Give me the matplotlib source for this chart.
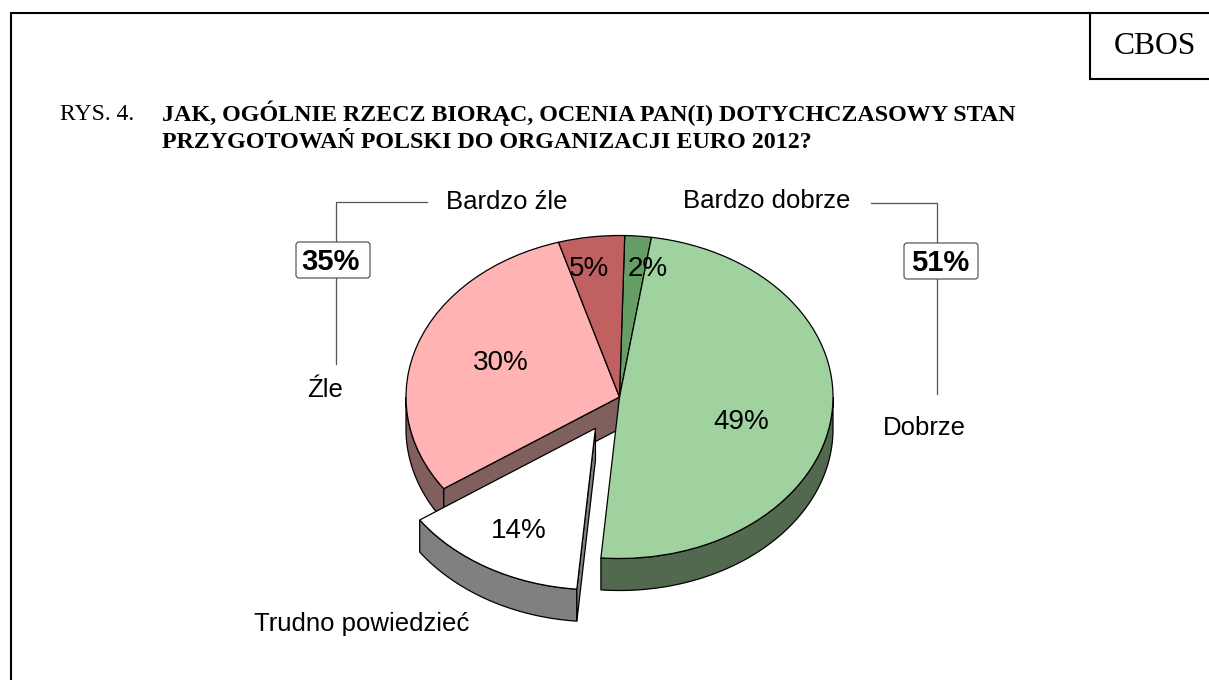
import numpy as np
import matplotlib
matplotlib.use('Agg')
import matplotlib.pyplot as plt
from matplotlib.patches import FancyBboxPatch

W, H = 1209, 680

# slices clockwise from the top
labels = ['Bardzo dobrze', 'Dobrze', 'Trudno powiedzieć', 'Źle', 'Bardzo źle']
values = [2, 49, 14, 30, 5]
pct_labels = ['2%', '49%', '14%', '30%', '5%']
top_colors = ['#669f66', '#a0d2a0', '#ffffff', '#ffb3b3', '#c06060']
wall_colors = ['#3f5f3f', '#53694f', '#808080', '#80605f', '#704040']
explode = [0, 0, 0.224, 0, 0]
summary_left = '35%'
summary_right = '51%'

title_prefix = 'RYS. 4.'
title_lines = ['JAK, OGÓLNIE RZECZ BIORĄC, OCENIA PAN(I) DOTYCHCZASOWY STAN',
               'PRZYGOTOWAŃ POLSKI DO ORGANIZACJI EURO 2012?']

fig = plt.figure(figsize=(W / 100, H / 100), dpi=100)

# overlay in pixel coordinates for the frame and all text
ov = fig.add_axes([0, 0, 1, 1], zorder=5)
ov.set_xlim(0, W)
ov.set_ylim(H, 0)
ov.axis('off')
ov.patch.set_alpha(0)

# pie axes: one data unit = 213.5 px across, 161.5 px up, so the circle comes out as an ellipse
cx, cy, rx, ry = 619.5, 397, 213.5, 161.5
span = 1.6
ax = fig.add_axes([(cx - rx * span) / W, 1 - (cy + ry * span) / H, 2 * rx * span / W, 2 * ry * span / H], zorder=1)
start = 1.4
depth = 32 / ry

wedges, _ = ax.pie(values, startangle=90 - start, counterclock=False, explode=explode, colors=top_colors,
                   radius=1, center=(0, 0), wedgeprops={'edgecolor': 'black', 'linewidth': 0.9})
ax.set_aspect('auto')
ax.set_xlim(-span, span)
ax.set_ylim(-span, span)
ax.axis('off')

edge = {'edgecolor': 'black', 'linewidth': 0.9}
angles = np.concatenate(([0], np.cumsum(values))) * 3.6 + start


def point(t):
    t = np.radians(t)
    return np.sin(t), np.cos(t)


for i, w in enumerate(wedges):
    t0, t1 = angles[i], angles[i + 1]
    mid = np.radians((t0 + t1) / 2)
    ox, oy = explode[i] * np.sin(mid), explode[i] * np.cos(mid)
    z = 4 if explode[i] else 2
    w.set_zorder(5 if explode[i] else 3)

    # outer wall: only the front half of the rim shows
    a, b = max(t0, 90), min(t1, 270)
    if a < b:
        t = np.linspace(a, b, 80)
        xs, ys = point(t)
        ax.fill(np.r_[xs, xs[::-1]] + ox, np.r_[ys, ys[::-1] - depth] + oy, facecolor=wall_colors[i], zorder=z, **edge)

    # the leading cut face shows when it sits in the lower left quarter
    if 180 < t0 < 270:
        ex, ey = point(t0)
        ax.fill(np.array([0, ex, ex, 0]) + ox, np.array([0, ey, ey - depth, -depth]) + oy,
                facecolor=wall_colors[i], zorder=z, **edge)

# frame
ov.plot([11, 11], [H, 13], color='black', lw=1.5, solid_capstyle='butt')
ov.plot([10, W], [13, 13], color='black', lw=1.5, solid_capstyle='butt')
ov.plot([1090, 1090, W], [13, 79, 79], color='black', lw=1.5, solid_joinstyle='miter')
ov.text(1155, 46, 'CBOS', family='Liberation Serif', fontsize=22.8, ha='center', va='center')

# title
ov.text(60, 115, title_prefix, family='Liberation Serif', fontsize=17, va='center')
ov.text(162, 113, title_lines[0], family='Liberation Serif', fontsize=17.3, weight='bold', va='center')
ov.text(162, 142, title_lines[1], family='Liberation Serif', fontsize=17.3, weight='bold', va='center')

# brackets and summary boxes
ov.plot([427, 336, 336], [202, 202, 364], color='#555555', lw=0.9)
ov.plot([871, 937, 937], [203, 203, 394], color='#555555', lw=0.9)
for x0, y0, tx, s in [(296, 242, 330, summary_left), (904, 243, 940, summary_right)]:
    ov.add_patch(FancyBboxPatch((x0 + 3, y0 + 3), 68, 30, boxstyle='round,pad=3,rounding_size=3',
                                facecolor='white', edgecolor='#444444', lw=0.8, zorder=3))
    ov.text(tx, y0 + 20, s, family='Liberation Sans', fontsize=21, weight='bold', ha='center', va='center', zorder=4)

# category labels
sans = {'family': 'Liberation Sans', 'fontsize': 18.5, 'va': 'center'}
ov.text(446, 202, labels[4], **sans)
ov.text(683, 201, labels[0], **sans)
ov.text(883, 428, labels[1], **sans)
ov.text(307, 390, labels[3], **sans)
ov.text(254, 624, labels[2], **sans)

# percentages on the slices
pct_pos = [(648, 269), (741, 422), (519, 531), (501, 363), (589, 269)]
for (x, y), s in zip(pct_pos, pct_labels):
    ov.text(x, y, s, family='Liberation Sans', fontsize=20, ha='center', va='center')

fig.savefig('out.png', dpi=100)
